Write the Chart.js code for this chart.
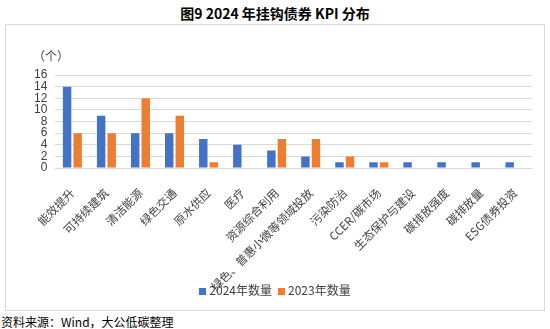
<!DOCTYPE html>
<html><head><meta charset="utf-8">
<script src="https://cdn.jsdelivr.net/npm/chart.js@4.4.1/dist/chart.umd.min.js"></script>
<style>
html,body{margin:0;padding:0;background:#fff;width:550px;height:329px;overflow:hidden;font-family:"Noto Sans CJK SC",sans-serif;}
#title{position:absolute;left:0;top:3px;width:550px;text-align:center;font-size:14px;font-weight:bold;color:#000;font-family:"Noto Sans CJK SC","DejaVu Serif",serif;}
#box{position:absolute;left:5px;top:24px;width:538px;height:285px;border:1px solid #d9d9d9;}
#unit{position:absolute;left:33px;top:47px;font-size:12px;color:#404040;}
#src{position:absolute;left:1px;top:313px;font-size:12px;color:#000;}
#legend{position:absolute;left:0;top:281px;width:550px;text-align:center;font-size:12px;color:#404040;line-height:18px;}
#legend span.sw{display:inline-block;width:7px;height:7px;margin:0 3px 1px 0;vertical-align:middle;}
#legend span.it{margin:0 3px;}
canvas{display:block;}
</style></head><body>
<div id="title">图9 2024 年挂钩债券 KPI 分布</div>
<div id="box"><canvas id="c" width="538" height="285"></canvas></div>
<div id="unit">（个）</div>
<div id="legend"></div>
<div id="src">资料来源：Wind，大公低碳整理</div>
<script>
const categories = ["能效提升","可持续建筑","清洁能源","绿色交通","原水供应","医疗","资源综合利用","绿色、普惠小微等领域投放","污染防治","CCER/碳市场","生态保护与建设","碳排放强度","碳排放量","ESG债券投资"];
const values2024 = [14,9,6,6,5,4,3,2,1,1,1,1,1,1];
const values2023 = [6,6,12,9,1,0,5,5,2,1,0,0,0,0];
const yTicks = [0,2,4,6,8,10,12,14,16];
const seriesNames = ["2024年数量","2023年数量"];
const seriesColors = ['#4472c4','#ed7d31'];

const chart = new Chart(document.getElementById('c'), {
  type:'bar',
  data:{labels:categories,datasets:[
    {label:seriesNames[0],data:values2024,backgroundColor:seriesColors[0],barPercentage:0.8,categoryPercentage:0.62},
    {label:seriesNames[1],data:values2023,backgroundColor:seriesColors[1],barPercentage:0.8,categoryPercentage:0.62}
  ]},
  options:{
    responsive:false,animation:false,
    layout:{padding:{left:20,right:12,top:50,bottom:0}},
    plugins:{legend:{display:false},tooltip:{enabled:false}},
    scales:{
      x:{grid:{display:false},border:{color:'#d9d9d9'},
         afterFit:(s)=>{s.height=142;},
         ticks:{maxRotation:45,minRotation:45,autoSkip:false,color:'#404040',padding:10,font:{size:11.5,family:'"Noto Sans CJK SC"'}}},
      y:{min:0,max:16,afterBuildTicks:(a)=>{a.ticks=yTicks.map(v=>({value:v}));},
         grid:{color:'#d9d9d9',drawTicks:false},border:{display:false},
         ticks:{autoSkip:false,padding:8,color:'#404040',font:{size:12,family:'"Liberation Sans"'}}}
    }
  }
});
document.getElementById('legend').innerHTML = chart.data.datasets.map(d =>
  '<span class="it"><span class="sw" style="background:'+d.backgroundColor+'"></span>'+d.label+'</span>').join('');
</script>
</body></html>
